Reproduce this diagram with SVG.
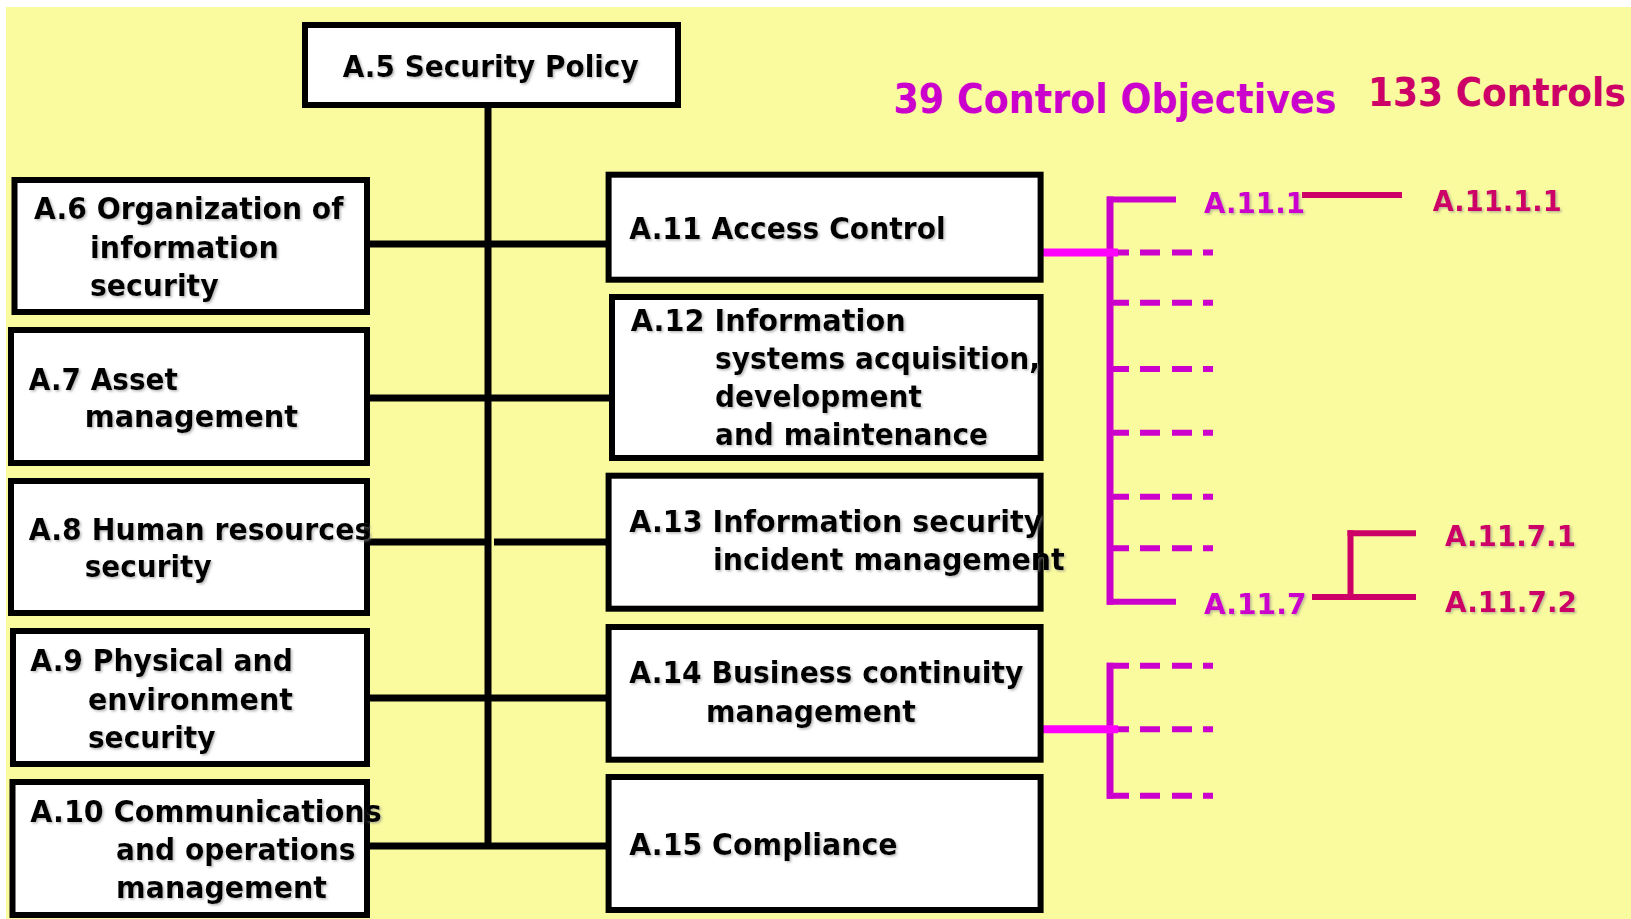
<svg xmlns="http://www.w3.org/2000/svg" width="1631" height="919" viewBox="0 0 1631 919">
<defs>
<style>
.box{fill:#FFFFFF;stroke:#000000;stroke-width:6}
.t{font-family:"DejaVu Sans","Verdana",sans-serif;font-weight:bold;font-size:30px;fill:#000000;filter:url(#sh)}
.hd{font-family:"DejaVu Sans","Verdana",sans-serif;font-weight:bold;font-size:40px}
.lb{font-family:"DejaVu Sans","Verdana",sans-serif;font-weight:bold;font-size:28px;filter:url(#sh)}
.mg{fill:#CC00CC}
.cr{fill:#CC0066}
.blk{stroke:#000000;stroke-width:7;fill:none}
.mline{stroke:#CC00CC;stroke-width:6;fill:none}
.mspine{stroke:#CC00CC;stroke-width:7;fill:none}
.mthick{stroke:#FF00FF;stroke-width:8;fill:none}
.mdash{stroke:#CC00CC;stroke-width:6;fill:none;stroke-dasharray:22 11 20 12 20 11 12}
.cline{stroke:#CC0066;stroke-width:6;fill:none}
</style>
<filter id="sh" x="-5%" y="-20%" width="110%" height="150%">
<feDropShadow dx="1.5" dy="1.5" stdDeviation="1" flood-color="#8a8a8a" flood-opacity="0.6"/>
</filter>
</defs>

<rect x="0" y="0" width="1631" height="919" fill="#FAFA9E"/>
<rect x="0" y="0" width="1631" height="7" fill="#FFFFFF"/>
<rect x="0" y="0" width="6" height="919" fill="#FFFFFF"/>

<g id="connectors">
  <path class="blk" d="M488 105 V846"/>
  <path class="blk" d="M367 244 H609"/>
  <path class="blk" d="M367 398 H609"/>
  <path class="blk" d="M367 542 H488 M494 542 H609"/>
  <path class="blk" d="M367 698 H609"/>
  <path class="blk" d="M367 846 H609"/>

  <path class="mspine" d="M1110 196.5 V604.7"/>
  <path class="mline" d="M1107 199.5 H1176"/>
  <path class="mline" d="M1107 601.7 H1176"/>
  <path class="mdash" d="M1107 252.5 H1213"/>
  <path class="mdash" d="M1107 302.7 H1213"/>
  <path class="mdash" d="M1107 369 H1213"/>
  <path class="mdash" d="M1107 432.7 H1213"/>
  <path class="mdash" d="M1107 496.7 H1213"/>
  <path class="mdash" d="M1107 548.3 H1213"/>
  <path class="mthick" d="M1043 252.5 H1118"/>

  <path class="mspine" d="M1110 662.7 V798.7"/>
  <path class="mdash" d="M1107 665.7 H1213"/>
  <path class="mdash" d="M1107 729.3 H1213"/>
  <path class="mdash" d="M1107 795.7 H1213"/>
  <path class="mthick" d="M1043 729.3 H1118"/>

  <path class="cline" d="M1302 195 H1402"/>
  <path class="cline" d="M1312 597 H1416"/>
  <path class="cline" d="M1350.5 530.3 V600"/>
  <path class="cline" d="M1347.5 533.3 H1416"/>
</g>

<g id="a5">
  <rect class="box" x="305" y="25" width="373" height="80"/>
  <text class="t" x="342.7" y="76.7" textLength="296" lengthAdjust="spacingAndGlyphs">A.5 Security Policy</text>
</g>

<g id="a6">
  <rect class="box" x="14.5" y="180" width="352.5" height="132"/>
  <text class="t" x="34" y="219" textLength="309.6" lengthAdjust="spacingAndGlyphs">A.6 Organization of</text>
  <text class="t" x="90" y="257.5" textLength="188.8" lengthAdjust="spacingAndGlyphs">information</text>
  <text class="t" x="90" y="296" textLength="128.6" lengthAdjust="spacingAndGlyphs">security</text>
</g>

<g id="a7">
  <rect class="box" x="11" y="330" width="356" height="133"/>
  <text class="t" x="28.8" y="389.5" textLength="149" lengthAdjust="spacingAndGlyphs">A.7 Asset</text>
  <text class="t" x="84.7" y="427" textLength="213.3" lengthAdjust="spacingAndGlyphs">management</text>
</g>

<g id="a8">
  <rect class="box" x="11" y="481" width="356" height="132"/>
  <text class="t" x="28.8" y="540" textLength="342.5" lengthAdjust="spacingAndGlyphs">A.8 Human resources</text>
  <text class="t" x="84.7" y="577" textLength="127" lengthAdjust="spacingAndGlyphs">security</text>
</g>

<g id="a9">
  <rect class="box" x="13" y="631" width="354" height="133"/>
  <text class="t" x="30.3" y="671" textLength="262.6" lengthAdjust="spacingAndGlyphs">A.9 Physical and</text>
  <text class="t" x="87.9" y="709.5" textLength="205" lengthAdjust="spacingAndGlyphs">environment</text>
  <text class="t" x="87.9" y="748" textLength="127.6" lengthAdjust="spacingAndGlyphs">security</text>
</g>

<g id="a10">
  <rect class="box" x="12.5" y="782" width="354.5" height="133"/>
  <text class="t" x="30.3" y="821.7" textLength="351.5" lengthAdjust="spacingAndGlyphs">A.10 Communications</text>
  <text class="t" x="116.1" y="860" textLength="239.5" lengthAdjust="spacingAndGlyphs">and operations</text>
  <text class="t" x="116.1" y="898.3" textLength="210.8" lengthAdjust="spacingAndGlyphs">management</text>
</g>

<g id="a11">
  <rect class="box" x="608.6" y="174.7" width="432" height="105"/>
  <text class="t" x="629.3" y="238.5" textLength="316.4" lengthAdjust="spacingAndGlyphs">A.11 Access Control</text>
</g>

<g id="a12">
  <rect class="box" x="612" y="297" width="428.6" height="161"/>
  <text class="t" x="630.7" y="331" textLength="275" lengthAdjust="spacingAndGlyphs">A.12 Information</text>
  <text class="t" x="715" y="368.5" textLength="325" lengthAdjust="spacingAndGlyphs">systems acquisition,</text>
  <text class="t" x="715" y="406.5" textLength="207" lengthAdjust="spacingAndGlyphs">development</text>
  <text class="t" x="715" y="445" textLength="273" lengthAdjust="spacingAndGlyphs">and maintenance</text>
</g>

<g id="a13">
  <rect class="box" x="608.6" y="475.7" width="432" height="133"/>
  <text class="t" x="629.3" y="532" textLength="413" lengthAdjust="spacingAndGlyphs">A.13 Information security</text>
  <text class="t" x="713" y="570" textLength="351.7" lengthAdjust="spacingAndGlyphs">incident management</text>
</g>

<g id="a14">
  <rect class="box" x="608.6" y="627" width="432" height="132.7"/>
  <text class="t" x="629.3" y="683.3" textLength="394" lengthAdjust="spacingAndGlyphs">A.14 Business continuity</text>
  <text class="t" x="706" y="721.7" textLength="209.7" lengthAdjust="spacingAndGlyphs">management</text>
</g>

<g id="a15">
  <rect class="box" x="608.6" y="777" width="432" height="133"/>
  <text class="t" x="629.3" y="855" textLength="268.3" lengthAdjust="spacingAndGlyphs">A.15 Compliance</text>
</g>

<g id="headers">
  <text class="hd mg" x="893.5" y="113.3" textLength="443" lengthAdjust="spacingAndGlyphs">39 Control Objectives</text>
  <text class="hd cr" x="1368" y="106" style="font-size:36px" transform="matrix(1 0 0 1.1 0 -10.6)">133 Controls</text>
</g>

<g id="objective-a11-1">
  <text class="lb mg" x="1204" y="213" textLength="101" lengthAdjust="spacingAndGlyphs">A.11.1</text>
</g>
<g id="objective-a11-7">
  <text class="lb mg" x="1204" y="613.5" textLength="102.5" lengthAdjust="spacingAndGlyphs">A.11.7</text>
</g>
<g id="control-a11-1-1">
  <text class="lb cr" x="1432.7" y="210.7" textLength="129" lengthAdjust="spacingAndGlyphs">A.11.1.1</text>
</g>
<g id="control-a11-7-1">
  <text class="lb cr" x="1445" y="546" textLength="131" lengthAdjust="spacingAndGlyphs">A.11.7.1</text>
</g>
<g id="control-a11-7-2">
  <text class="lb cr" x="1445" y="612" textLength="132" lengthAdjust="spacingAndGlyphs">A.11.7.2</text>
</g>
</svg>
